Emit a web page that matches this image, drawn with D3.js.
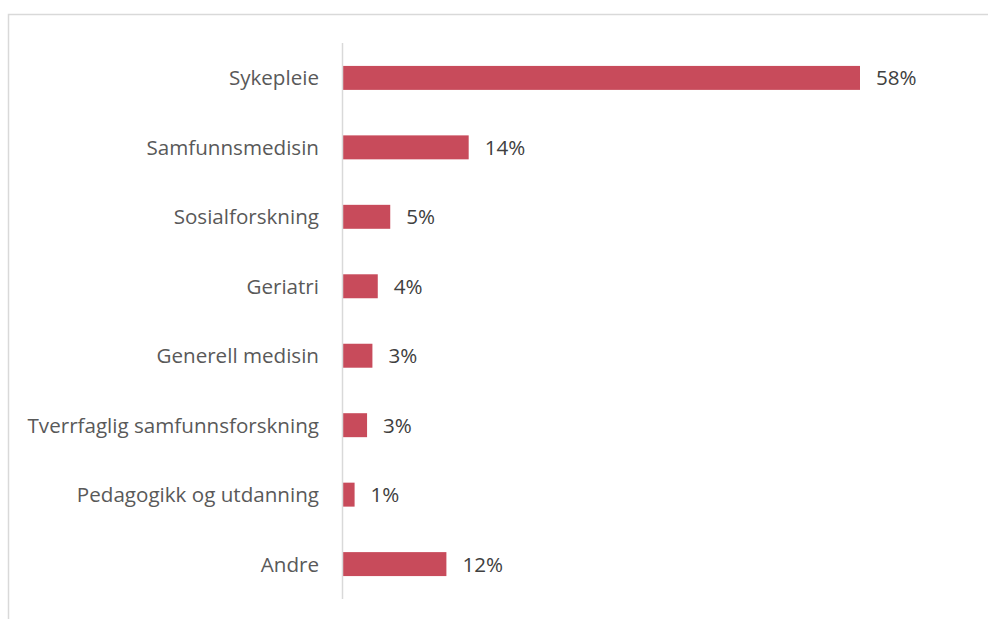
<!DOCTYPE html>
<html><head><meta charset="utf-8">
<script src="https://cdn.jsdelivr.net/npm/d3@7"></script>
<style>body{margin:0;background:#fff;} svg{display:block;}</style>
</head><body>
<script>
const categories = ["Sykepleie","Samfunnsmedisin","Sosialforskning","Geriatri","Generell medisin","Tverrfaglig samfunnsforskning","Pedagogikk og utdanning","Andre"];
const values = [58, 14.1, 5.3, 3.9, 3.3, 2.7, 1.3, 11.6];
const valueLabels = ["58%","14%","5%","4%","3%","3%","1%","12%"];

(function(){
const W = 988, H = 619;
const svg = d3.select("body").append("svg").attr("width", W).attr("height", H);
svg.append("rect").attr("x", 8.5).attr("y", 14.5).attr("width", 990).attr("height", 620)
  .attr("fill", "#fff").attr("stroke", "#d9d9d9").attr("stroke-width", 1.5);

const x0 = 343, yTop = 43, yBottom = 599;
const x = d3.scaleLinear().domain([0, 58]).range([x0, 860]);
const y = d3.scaleBand().domain(categories).range([yTop, yBottom]).paddingInner(0.655).paddingOuter(0.33);

const font = "Open Sans, Lato, sans-serif";
svg.selectAll("rect.bar").data(categories).enter().append("rect")
  .attr("class","bar")
  .attr("x", x(0)).attr("y", d => y(d))
  .attr("width", (d,i) => x(values[i]) - x(0)).attr("height", y.bandwidth())
  .attr("fill", "#c84b5b");

svg.append("line").attr("x1", x0 - 0.5).attr("x2", x0 - 0.5).attr("y1", yTop).attr("y2", yBottom)
  .attr("stroke", "#d9d9d9").attr("stroke-width", 1.5);

svg.selectAll("text.cat").data(categories).enter().append("text")
  .attr("x", 319).attr("y", d => y(d) + y.bandwidth()/2).attr("dy", "0.36em")
  .attr("text-anchor", "end").attr("font-family", font).attr("font-size", 20.6)
  .attr("fill", "#595959").text(d => d);

svg.selectAll("text.val").data(categories).enter().append("text")
  .attr("x", (d,i) => x(values[i]) + 16).attr("y", d => y(d) + y.bandwidth()/2).attr("dy", "0.36em")
  .attr("font-family", font).attr("font-size", 20.6)
  .attr("fill", "#404040").text((d,i) => valueLabels[i]);
})();
</script>
</body></html>
